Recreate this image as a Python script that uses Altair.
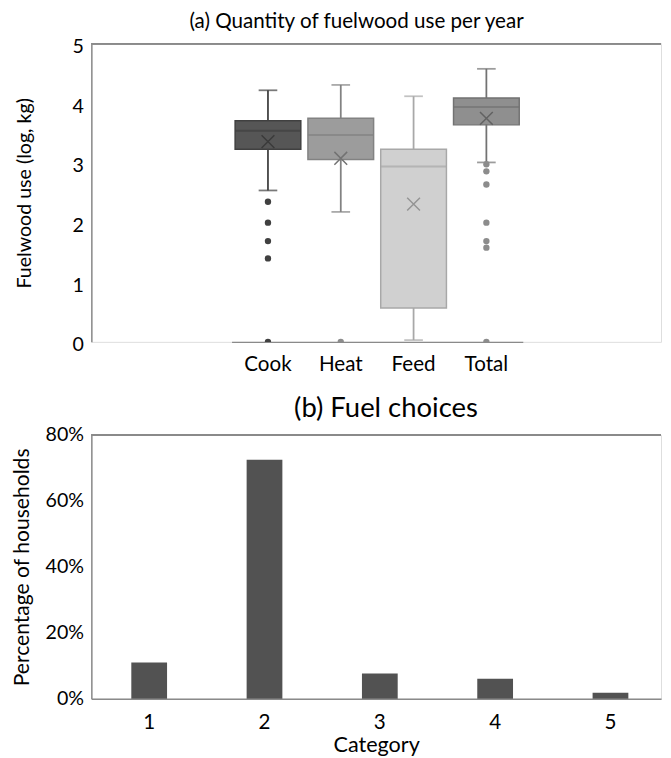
import altair as alt
import pandas as pd

# ---------------- data: (a) box plots ----------------
uses = ["Cook", "Heat", "Feed", "Total"]
q1 = [3.23, 3.06, 0.57, 3.64]
medians = [3.54, 3.47, 2.94, 3.94]
q3 = [3.71, 3.75, 3.23, 4.09]
whisker_low = [2.54, 2.18, 0.03, 3.01]
whisker_high = [4.22, 4.31, 4.12, 4.58]
means = [3.36, 3.08, 2.31, 3.75]
outlier_use = ["Cook"] * 5 + ["Heat"] + ["Total"] * 7
outlier_val = [2.35, 2.00, 1.69, 1.40, 0.0,
               0.0,
               2.98, 2.86, 2.64, 2.00, 1.69, 1.58, 0.0]
y_ticks_a = [0, 0.5, 1, 1.5, 2, 2.5, 3, 3.5, 4, 4.5, 5]

# ---------------- data: (b) fuel choices ----------------
categories = ["1", "2", "3", "4", "5"]
shares = [0.110, 0.725, 0.077, 0.061, 0.018]
y_ticks_b = [0, 0.2, 0.4, 0.6, 0.8]

# ---------------- styles ----------------
FONT = "Lato"
AXIS_GREY = "#8a8a8a"
box_fill = ["#565656", "#9c9c9c", "#d0d0d0", "#8f8f8f"]
box_line = ["#404040", "#828282", "#a8a8a8", "#727272"]
mean_line = ["#3a3a3a", "#727272", "#949494", "#626262"]
out_fill = ["#404040", "#8c8c8c", "#8c8c8c", "#8c8c8c"]

box_df = pd.DataFrame({
    "use": uses, "q1": q1, "median": medians, "q3": q3,
    "lo": whisker_low, "hi": whisker_high, "mean": means,
})
out_df = pd.DataFrame({"use": outlier_use, "value": outlier_val})
bar_df = pd.DataFrame({"category": categories, "share": shares})

W = 581
H_TOP = 304
H_BOT = 269

xs = alt.X(
    "use:N",
    sort=uses,
    scale=alt.Scale(domain=uses, paddingInner=0, paddingOuter=0, range=[143, 440]),
    axis=alt.Axis(
        title=None, labelAngle=0, ticks=False, labelPadding=12,
        domainColor=AXIS_GREY, domainWidth=1.5,
        labelFontSize=21, labelColor="#000000", labelFont=FONT,
    ),
)
yscale = alt.Scale(domain=[0, 5], nice=False)
ys_axis = alt.Axis(
    title="Fuelwood use (log, kg)", values=y_ticks_a, format="~g",
    ticks=False, grid=False, labelPadding=8, labelOffset=3,
    domainColor=AXIS_GREY, domainWidth=1.5,
    labelFontSize=20, labelColor="#000000", labelFont=FONT,
    titleFontSize=20, titleFont=FONT, titleFontWeight="normal", titleColor="#000000",
    titleX=-58,
)

base = alt.Chart(box_df)
fill_scale = alt.Scale(domain=uses, range=box_fill)
line_scale = alt.Scale(domain=uses, range=box_line)

whisk = base.mark_rule(strokeWidth=1.8).encode(
    x=xs,
    y=alt.Y("lo:Q", scale=yscale, axis=ys_axis),
    y2="hi:Q",
    stroke=alt.Stroke("use:N", scale=line_scale, legend=None),
)
cap_lo = base.mark_tick(size=19, thickness=1.8).encode(
    x=xs, y=alt.Y("lo:Q", scale=yscale),
    color=alt.Color("use:N", scale=line_scale, legend=None),
)
cap_hi = base.mark_tick(size=19, thickness=1.8).encode(
    x=xs, y=alt.Y("hi:Q", scale=yscale),
    color=alt.Color("use:N", scale=line_scale, legend=None),
)
box = base.mark_bar(size=67, strokeWidth=1.5).encode(
    x=xs,
    y=alt.Y("q1:Q", scale=yscale),
    y2="q3:Q",
    fill=alt.Fill("use:N", scale=fill_scale, legend=None),
    stroke=alt.Stroke("use:N", scale=line_scale, legend=None),
)
med = base.mark_tick(size=67, thickness=2).encode(
    x=xs, y=alt.Y("median:Q", scale=yscale),
    color=alt.Color("use:N", scale=line_scale, legend=None),
)
mean_mark = base.mark_point(
    shape="M-1,-1L1,1M-1,1L1,-1", filled=False, size=170, strokeWidth=1.5, opacity=1
).encode(
    x=xs, y=alt.Y("mean:Q", scale=yscale),
    color=alt.Color("use:N", scale=alt.Scale(domain=uses, range=mean_line), legend=None),
)
outl = alt.Chart(out_df).mark_circle(size=42, opacity=1, clip=True).encode(
    x=xs, y=alt.Y("value:Q", scale=yscale),
    color=alt.Color("use:N", scale=alt.Scale(domain=uses, range=out_fill), legend=None),
)
top_line = base.mark_rule(color=AXIS_GREY, strokeWidth=1.5).encode(
    x=alt.value(0), x2=alt.value(W), y=alt.value(0)
)

chart_a = alt.layer(
    whisk, cap_lo, cap_hi, box, med, mean_mark, outl, top_line
).resolve_scale(
    color="independent", stroke="independent", fill="independent"
).properties(
    width=W, height=H_TOP,
    title=alt.TitleParams(
        "(a) Quantity of fuelwood use per year", fontSize=21, font=FONT,
        fontWeight="normal", color="#000000", anchor="middle", dx=-20, offset=5,
    ),
)

# ---------------- (b) ----------------
bars = alt.Chart(bar_df).mark_bar(color="#525252").encode(
    x=alt.X(
        "category:N", sort=categories,
        scale=alt.Scale(domain=categories, paddingInner=0.69, paddingOuter=0.315, align=0.55),
        axis=alt.Axis(
            title="Category", labelAngle=0, ticks=False, labelPadding=13,
            domainColor=AXIS_GREY, domainWidth=1.5,
            labelFontSize=21, labelColor="#000000", labelFont=FONT,
            titleFontSize=22, titleFont=FONT, titleFontWeight="normal",
            titleColor="#000000", titlePadding=3,
        ),
    ),
    y=alt.Y(
        "share:Q", scale=alt.Scale(domain=[0, 0.8], nice=False),
        axis=alt.Axis(
            title="Percentage of households", format=".0%", values=y_ticks_b,
            ticks=False, grid=False, labelPadding=8,
            domainColor=AXIS_GREY, domainWidth=1.5,
            labelFontSize=20, labelColor="#000000", labelFont=FONT,
            titleFontSize=21.5, titleFont=FONT, titleFontWeight="normal",
            titleColor="#000000", titleX=-59,
        ),
    ),
)
top_line_b = alt.Chart(bar_df).mark_rule(color=AXIS_GREY, strokeWidth=1.5).encode(
    x=alt.value(0), x2=alt.value(W), y=alt.value(0)
)
chart_b = alt.layer(bars, top_line_b).properties(
    width=W, height=H_BOT,
    title=alt.TitleParams(
        "(b) Fuel choices", fontSize=28, font=FONT, fontWeight="normal",
        color="#000000", anchor="middle", dx=10, offset=2,
    ),
)

chart = alt.vconcat(chart_a, chart_b, spacing=20).properties(
    padding={"left": 3, "top": -5, "right": 0, "bottom": 0}
).configure_view(stroke=None).configure(font=FONT)

chart.save("out.html", embed_options={"renderer": "svg", "actions": False})
